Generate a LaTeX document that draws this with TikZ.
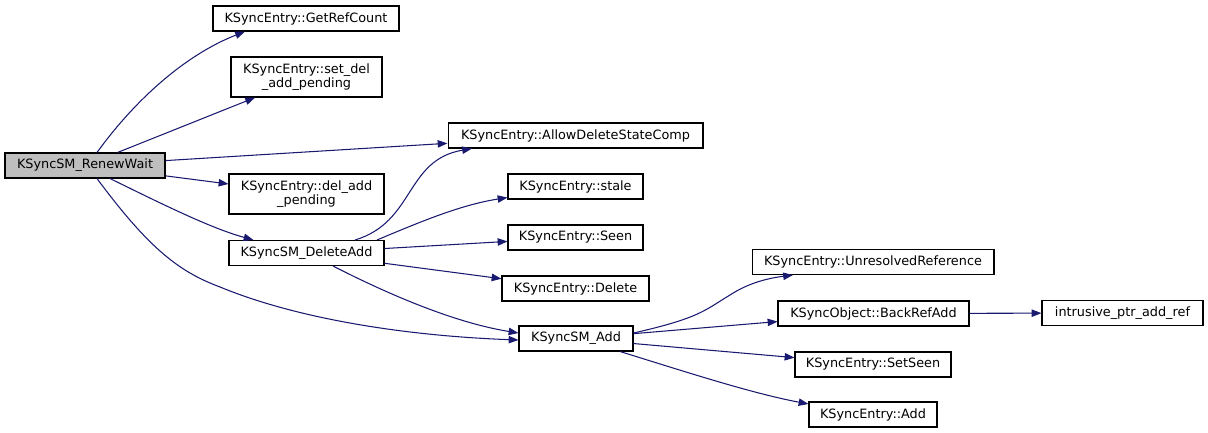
\documentclass[tikz,border=0pt]{standalone}
\usepackage{fontspec}
\setmainfont{DejaVu Sans}
\usepackage{tikz}
\usetikzlibrary{arrows.meta,positioning,calc}
\definecolor{edgeblue}{RGB}{25,25,112}
\definecolor{rootgray}{RGB}{191,191,191}
\tikzset{
  fn/.style={draw=black,line width=0.6pt,fill=white,minimum height=0.5cm,inner sep=1pt,
    font=\fontsize{7.3}{8.2}\selectfont,align=center},
  fntwo/.style={fn,minimum height=0.8cm},
  call/.style={edgeblue,line width=0.6pt,-{Triangle[length=5.6pt,width=4.2pt]}}
}

\begin{document}
\begin{tikzpicture}[x=0.02cm,y=-0.02cm]
    % Ramka obrazka: 1208 x 433
    \useasboundingbox (0,0) rectangle (1208,433);
    % Kolumna 1
    \node[fn,fill=rootgray,minimum width=3.2cm] (rw) at (85,165.5) {KSyncSM\_RenewWait};
    % Kolumna 2
    \node[fn,minimum width=3.72cm] (grc) at (306,18.5) {KSyncEntry::GetRefCount};
    \node[fntwo,minimum width=3.02cm] (sdap) at (306.5,77) {KSyncEntry::set\_del\\\_add\_pending};
    \node[fntwo,minimum width=3.1cm] (dap) at (306.5,194) {KSyncEntry::del\_add\\\_pending};
    \node[fn,minimum width=3.1cm] (dela) at (306.5,253) {KSyncSM\_DeleteAdd};
    % Kolumna 3
    \node[fn,minimum width=5.1cm] (adsc) at (575.5,135.5) {KSyncEntry::AllowDeleteStateComp};
    \node[fn,minimum width=2.7cm] (stale) at (575.5,186.5) {KSyncEntry::stale};
    \node[fn,minimum width=2.7cm] (seen) at (575.5,237.5) {KSyncEntry::Seen};
    \node[fn,minimum width=2.94cm] (delete) at (575.5,288.5) {KSyncEntry::Delete};
    \node[fn,minimum width=2.28cm] (smadd) at (576,338.5) {KSyncSM\_Add};
    % Kolumna 4
    \node[fn,minimum width=4.84cm] (unres) at (873,262) {KSyncEntry::UnresolvedReference};
    \node[fn,minimum width=3.82cm] (bra) at (873.5,313.5) {KSyncObject::BackRefAdd};
    \node[fn,minimum width=3.12cm] (setseen) at (873,364.5) {KSyncEntry::SetSeen};
    \node[fn,minimum width=2.56cm] (add) at (873,414.5) {KSyncEntry::Add};
    % Kolumna 5
    \node[fn,minimum width=3.22cm] (ipar) at (1122.5,313) {intrusive\_ptr\_add\_ref};

    % Proste wywolania
    \foreach \from/\to in {rw/sdap, rw/adsc, rw/dap, dela/seen, dela/delete, smadd/bra, smadd/setseen, bra/ipar} {
        \draw[call] (\from) -- (\to);
    }
    % Wywolania po lukach
    \draw[call] ($(rw.north)+(12,0)$) .. controls (135,100) and (185,55) .. ($(grc.south)+(-61,0)$);
    \draw[call] ($(rw.south)+(25,0)$) .. controls (160,203) and (210,228) .. ($(dela.north)+(-53,0)$);
    \draw[call] ($(rw.south)+(12,0)$) .. controls (150,250) and (180,272) .. (220,287)
        .. controls (300,320) and (410,336) .. ($(smadd.west)+(0,1.5)$);
    \draw[call] ($(dela.north)+(48.5,0)$) .. controls (415,222) and (405,160) .. ($(adsc.south)+(-103.5,0)$);
    \draw[call] ($(dela.north)+(70.5,0)$) .. controls (420,222) and (460,205) .. ($(stale.south west)+(0,-2)$);
    \draw[call] ($(dela.south)+(26.5,0)$) .. controls (380,290) and (450,322) .. ($(smadd.west)+(0,-5.5)$);
    \draw[call] ($(smadd.east)+(0,-5.5)$) .. controls (700,318) and (705,310) .. (730,295)
        .. controls (750,282) and (770,278) .. ($(unres.south)+(-80,0)$);
    \draw[call] ($(smadd.south)+(44,0)$) .. controls (680,370) and (750,393) .. ($(add.north west)+(0,2.5)$);
\end{tikzpicture}
\end{document}
